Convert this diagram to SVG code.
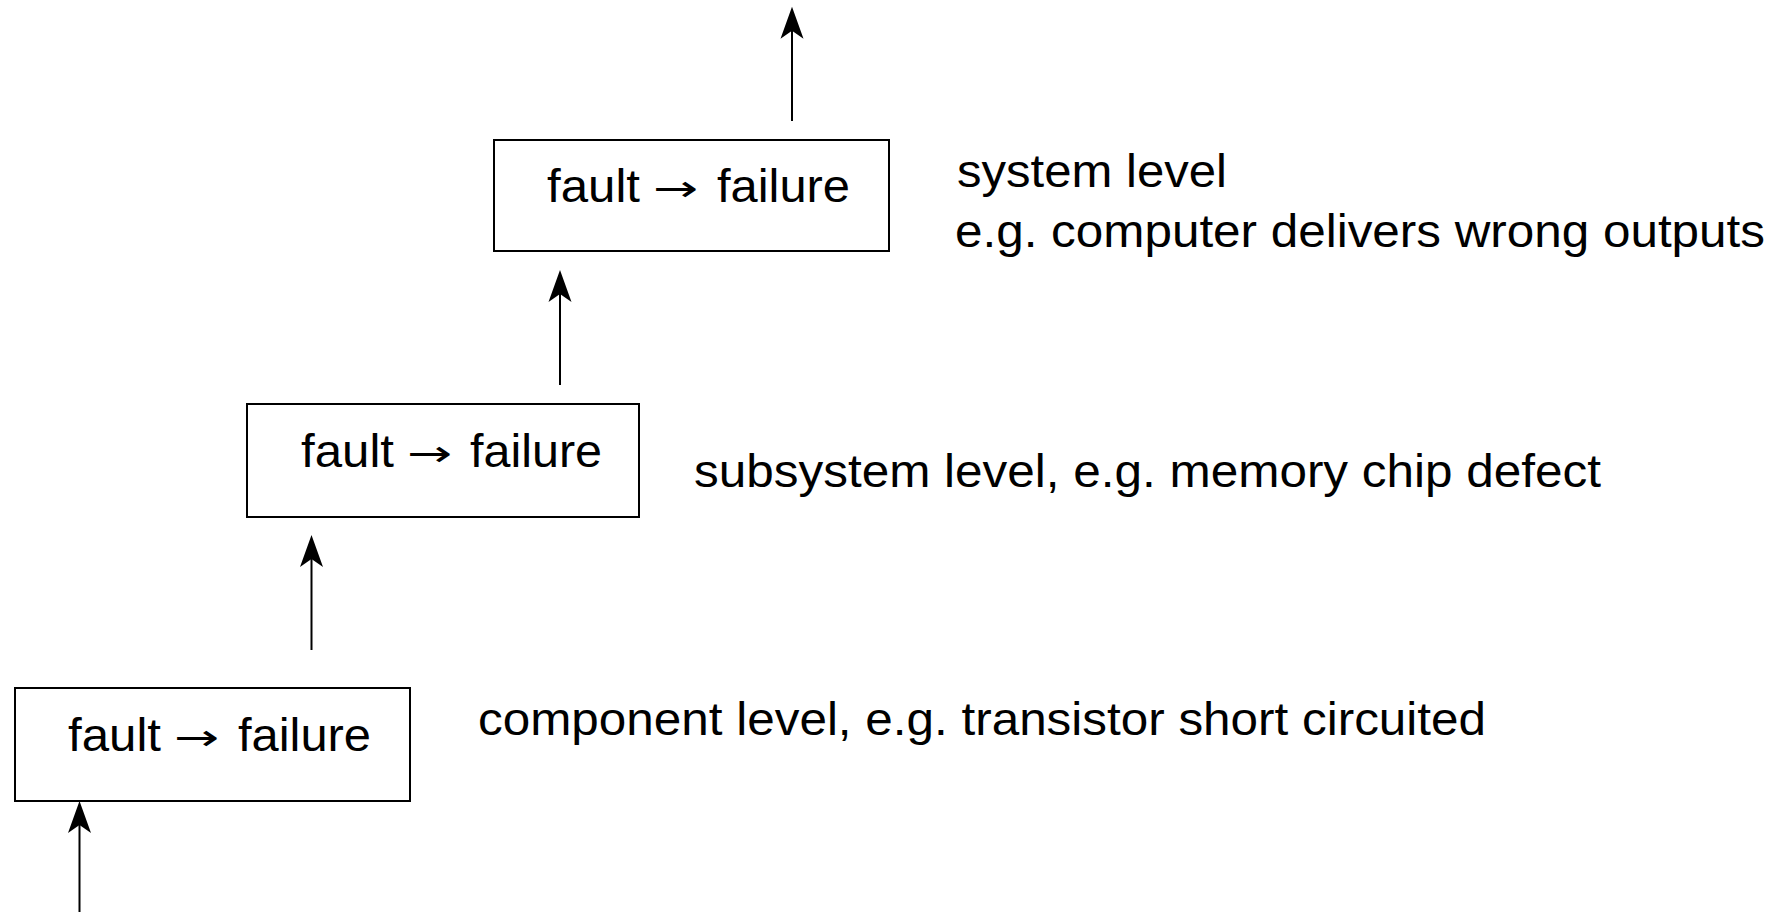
<svg xmlns="http://www.w3.org/2000/svg" width="1787" height="912" viewBox="0 0 1787 912">
<style>
.box{fill:#fff;stroke:#000;stroke-width:2}
.t{font-family:"Liberation Sans",Arial,sans-serif;font-size:46px;fill:#000}
.a{font-family:"DejaVu Sans",sans-serif;font-size:36px;fill:#000}
.c{stroke:#000;stroke-width:2;fill:none;marker-end:url(#ah)}
</style>
<defs>
<marker id="ah" markerUnits="userSpaceOnUse" viewBox="-24 -13 36 26" markerWidth="36" markerHeight="26" refX="0" refY="0" orient="auto">
<path d="M10,0 L-22,-11.5 L-14,0 L-22,11.5 Z" fill="#000"/>
</marker>
</defs>
<rect width="1787" height="912" fill="#fff"/>
<g id="connectors">
<line class="c" x1="792" y1="121" x2="792" y2="16.7"/>
<line class="c" x1="560" y1="385" x2="560" y2="280"/>
<line class="c" x1="311.5" y1="650" x2="311.5" y2="545"/>
<line class="c" x1="79.5" y1="912" x2="79.5" y2="811"/>
</g>
<g id="node-system">
<rect class="box" x="494" y="140" width="395" height="111"/>
<text class="t" x="547" y="202" textLength="93" lengthAdjust="spacingAndGlyphs">fault</text>
<text class="a" transform="translate(653,201) scale(1.5,1)">→</text>
<text class="t" x="717" y="202" textLength="133" lengthAdjust="spacingAndGlyphs">failure</text>
</g>
<g id="node-subsystem">
<rect class="box" x="247" y="404" width="392" height="113"/>
<text class="t" x="301" y="467" textLength="93" lengthAdjust="spacingAndGlyphs">fault</text>
<text class="a" transform="translate(407,466) scale(1.5,1)">→</text>
<text class="t" x="470" y="467" textLength="132" lengthAdjust="spacingAndGlyphs">failure</text>
</g>
<g id="node-component">
<rect class="box" x="15" y="688" width="395" height="113"/>
<text class="t" x="68" y="751" textLength="93" lengthAdjust="spacingAndGlyphs">fault</text>
<text class="a" transform="translate(174,750) scale(1.5,1)">→</text>
<text class="t" x="238" y="751" textLength="133" lengthAdjust="spacingAndGlyphs">failure</text>
</g>
<g id="labels">
<text class="t" x="957" y="187" textLength="270" lengthAdjust="spacingAndGlyphs">system level</text>
<text class="t" x="955" y="247" textLength="810" lengthAdjust="spacingAndGlyphs">e.g. computer delivers wrong outputs</text>
<text class="t" x="694" y="487" textLength="907" lengthAdjust="spacingAndGlyphs">subsystem level, e.g. memory chip defect</text>
<text class="t" x="478" y="735" textLength="1008" lengthAdjust="spacingAndGlyphs">component level, e.g. transistor short circuited</text>
</g>
</svg>
